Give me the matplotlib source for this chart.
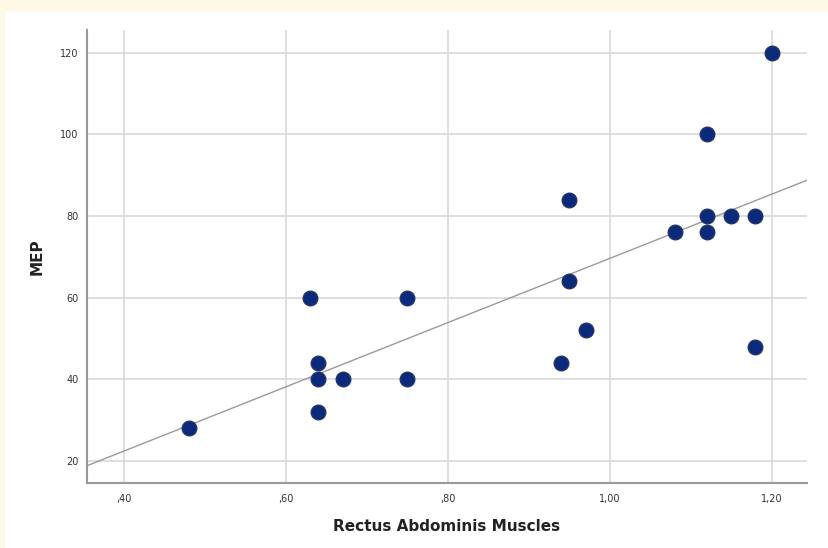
import matplotlib
matplotlib.use("Agg")
import matplotlib.pyplot as plt
import numpy as np

# Data
rectus = [0.48, 0.63, 0.64, 0.64, 0.64, 0.67, 0.75, 0.75, 0.94, 0.95,
          0.95, 0.97, 1.08, 1.12, 1.12, 1.12, 1.15, 1.18, 1.18, 1.20]
mep = [28, 60, 44, 40, 32, 40, 60, 40, 44, 84,
       64, 52, 76, 100, 80, 76, 80, 80, 48, 120]
x_ticks = [0.40, 0.60, 0.80, 1.00, 1.20]
x_tick_labels = [",40", ",60", ",80", "1,00", "1,20"]
y_ticks = [20, 40, 60, 80, 100, 120]
y_tick_labels = ["20", "40", "60", "80", "100", "120"]

W, H = 829, 548
fig = plt.figure(figsize=(W / 100, H / 100), dpi=100)
fig.patch.set_facecolor("#FEF9E7")
# white panel
fig.patches.append(plt.Rectangle((5 / W, 0), 1, 1 - 12 / H, transform=fig.transFigure,
                                 facecolor="white", edgecolor="none", zorder=-10))

ax = fig.add_axes([87 / W, 1 - 483 / H, (807 - 87) / W, (483 - 30) / H])
ax.set_zorder(5)
ax.set_facecolor("white")
ax.set_xlim(0.354, 1.2437)
ax.set_ylim(14.6, 125.6)

ax.set_xticks(x_ticks)
ax.set_xticklabels(x_tick_labels)
ax.set_yticks(y_ticks)
ax.set_yticklabels(y_tick_labels)
ax.tick_params(length=0, labelsize=7, colors="#333333", pad=6)
ax.tick_params(axis="x", pad=8)
for lab in ax.get_xticklabels() + ax.get_yticklabels():
    lab.set_family("DejaVu Sans")

ax.grid(True, color="#D9D9D9", linewidth=1.2)
ax.set_axisbelow(True)
for s in ["top", "right"]:
    ax.spines[s].set_visible(False)
for s in ["left", "bottom"]:
    ax.spines[s].set_color("#999999")
    ax.spines[s].set_linewidth(1.5)

# regression line
xs = np.array(rectus)
ys = np.array(mep)
b, a = np.polyfit(xs, ys, 1)
xl = np.array(ax.get_xlim())
ax.plot(xl, a + b * xl, color="#9A9A9A", linewidth=1.0, zorder=2)

ax.scatter(rectus, mep, s=110, color="#0B2A7C", edgecolors="#243566",
           linewidths=1.0, zorder=3)

ax.set_xlabel("Rectus Abdominis Muscles", fontsize=11, fontweight="bold",
              family="DejaVu Sans", color="#222222", labelpad=11)
ax.set_ylabel("MEP", fontsize=11, fontweight="bold", family="DejaVu Sans",
              color="#222222", labelpad=11)

fig.savefig("out.png", dpi=100, facecolor=fig.get_facecolor())
